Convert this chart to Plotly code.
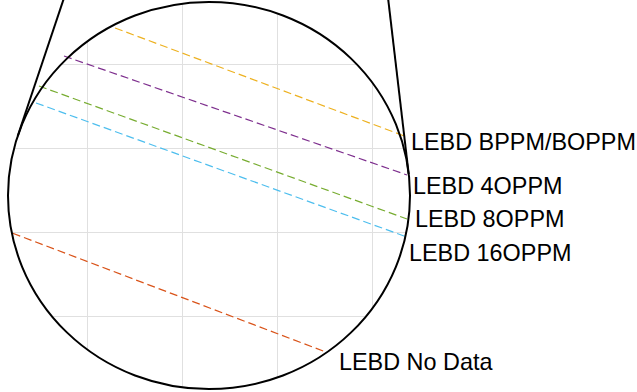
import numpy as np
import plotly.graph_objects as go

# ---- data ----
series_names = ["LEBD BPPM/BOPPM", "LEBD 4OPPM", "LEBD 8OPPM", "LEBD 16OPPM", "LEBD No Data"]
series_colors = ["#EDB120", "#7E2F8E", "#77AC30", "#4DBEEE", "#D95319"]
x_start = [1.294, 0.759, 0.496, 0.465, 0.221]
x_end = [4.357, 4.357, 4.357, 4.357, 3.497]
y_start = [4.429, 4.095, 3.738, 3.536, 1.985]
y_end = [3.131, 2.679, 2.155, 1.940, 0.575]
label_x = [4.390, 4.407, 4.425, 4.372, 3.638]
label_y = [3.071, 2.551, 2.149, 1.750, 0.452]
grid_x = [1, 2, 3, 4]
grid_y = [1, 2, 3, 4]

X_RANGE = [0.0874, 6.7694]
Y_RANGE = [0.0952, 4.7619]
W, H = 637, 392


def px2x(px):
    return X_RANGE[0] + px / W * (X_RANGE[1] - X_RANGE[0])


def py2y(py):
    return Y_RANGE[1] - py / H * (Y_RANGE[1] - Y_RANGE[0])


fig = go.Figure()
for name, col, xs, xe, ys, ye in zip(series_names, series_colors, x_start, x_end, y_start, y_end):
    fig.add_trace(go.Scatter(x=[xs, xe], y=[ys, ye], mode="lines", name=name,
                             line=dict(color=col, width=1.2, dash="8px,4px"),
                             hoverinfo="skip", showlegend=False))

# magnifier circle geometry (pixels)
cx, cy, rx, ry = 209.0, 195.5, 201.0, 193.6
t = np.linspace(0, 2 * np.pi, 241)
ex = px2x(cx + rx * np.cos(t))
ey = py2y(cy + ry * np.sin(t))
outer = f"M {X_RANGE[0]-1},{Y_RANGE[0]-1} L {X_RANGE[1]+1},{Y_RANGE[0]-1} L {X_RANGE[1]+1},{Y_RANGE[1]+1} L {X_RANGE[0]-1},{Y_RANGE[1]+1} Z"
inner = "M " + " L ".join(f"{a:.5f},{b:.5f}" for a, b in zip(ex, ey)) + " Z"

shapes = [
    dict(type="path", path=outer + " " + inner, fillcolor="white", fillrule="evenodd",
         line=dict(width=0), layer="between", xref="x", yref="y"),
    dict(type="circle", xref="x", yref="y",
         x0=px2x(cx - rx), x1=px2x(cx + rx), y0=py2y(cy + ry), y1=py2y(cy - ry),
         line=dict(color="black", width=2), layer="above"),
    dict(type="line", xref="x", yref="y", x0=px2x(65.0), y0=py2y(-5), x1=px2x(17.7), y1=py2y(136),
         line=dict(color="black", width=2), layer="above"),
    dict(type="line", xref="x", yref="y", x0=px2x(387.7), y0=py2y(-5), x1=px2x(408.7), y1=py2y(174),
         line=dict(color="black", width=2), layer="above"),
]

annotations = [
    dict(x=lx, y=ly, xref="x", yref="y", text=name, showarrow=False,
         xanchor="left", yanchor="middle", borderpad=0,
         font=dict(family="Arial, Liberation Sans, sans-serif", size=23.4, color="black"))
    for name, lx, ly in zip(series_names, label_x, label_y)
]

fig.update_layout(
    width=W, height=H, margin=dict(l=0, r=0, t=0, b=0),
    paper_bgcolor="white", plot_bgcolor="white",
    shapes=shapes, annotations=annotations, showlegend=False,
    xaxis=dict(range=X_RANGE, tickvals=grid_x, showticklabels=False, ticks="",
               showgrid=True, gridcolor="#e0e0e0", gridwidth=1, zeroline=False, showline=False,
               fixedrange=True),
    yaxis=dict(range=Y_RANGE, tickvals=grid_y, showticklabels=False, ticks="",
               showgrid=True, gridcolor="#e0e0e0", gridwidth=1, zeroline=False, showline=False,
               fixedrange=True),
)

fig.write_html("out.html", config={"displayModeBar": False})
